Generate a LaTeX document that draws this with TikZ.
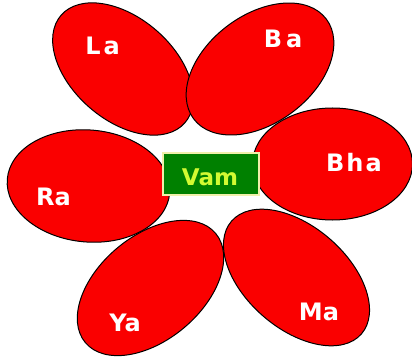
\documentclass[tikz,border=0pt]{standalone}
\usepackage{fontspec}
\setmainfont{DejaVu Sans}
\usetikzlibrary{shapes.geometric}
\definecolor{petalred}{RGB}{250,0,0}
\definecolor{vamgreen}{RGB}{0,128,0}
\definecolor{vamtext}{RGB}{210,250,50}
\definecolor{vamborder}{RGB}{240,240,170}
\begin{document}
\begin{tikzpicture}[x=1pt,y=1pt,
  petal/.style={ellipse, draw=black, line width=1pt, fill=petalred, inner sep=0pt},
  lbl/.style={text=white, font=\bfseries\fontsize{24}{24}\selectfont, inner sep=0pt, anchor=base},
  center/.style={rectangle, draw=vamborder, line width=1.2pt, fill=vamgreen, minimum width=96pt, minimum height=42pt, inner sep=0pt}]
\useasboundingbox[fill=white] (0,0) rectangle (412,362);
% petals
\node[petal, minimum width=164pt, minimum height=102pt, rotate=-41] (pLa) at (123,293) {};
\node[petal, minimum width=166pt, minimum height=108pt, rotate=37] (pBa) at (260,293) {};
\node[petal, minimum width=160pt, minimum height=112pt] (pBha) at (332.5,198) {};
\node[petal, minimum width=172pt, minimum height=102pt, rotate=-41] (pMa) at (296.5,84.5) {};
\node[petal, minimum width=170pt, minimum height=104pt, rotate=40] (pYa) at (150.5,74) {};
\node[petal, minimum width=163pt, minimum height=112pt, rotate=-5] (pRa) at (88.5,176) {};
% centre
\node[center] (vam) at (211,188) {};
\node[text=vamtext, font=\bfseries\fontsize{23}{23}\selectfont, inner sep=0pt, anchor=base] (tVam) at (210,177) {Vam};
% labels
\node[lbl] (tLa) at (102.5,307) {L\kern3pt a};
\node[lbl] (tBa) at (283,314) {B\kern4pt a};
\node[lbl] (tBha) at (354,190) {B\kern2pt h\kern2pt a};
\node[lbl] (tRa) at (53.5,157) {Ra};
\node[lbl] (tYa) at (125,31) {Ya};
\node[lbl] (tMa) at (319,42) {Ma};
\end{tikzpicture}
\end{document}
